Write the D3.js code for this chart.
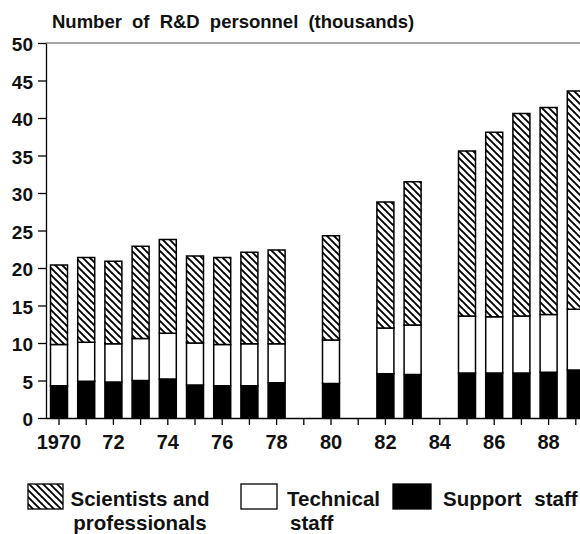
<!DOCTYPE html>
<html>
<head>
<meta charset="utf-8">
<script src="https://cdn.jsdelivr.net/npm/d3@7"></script>
<style>
  body { margin: 0; background: #fff; }
  text { font-family: Arial, "Liberation Sans", Helvetica, sans-serif; font-weight: bold; fill: #111; }
</style>
</head>
<body>
<div id="chart"></div>
<script>
// years with data (1979, 1981, 1984 missing)
const years = [1970, 1971, 1972, 1973, 1974, 1975, 1976, 1977, 1978, 1980, 1982, 1983, 1985, 1986, 1987, 1988, 1989];
const support = [4.3, 4.9, 4.8, 5.0, 5.2, 4.4, 4.3, 4.3, 4.7, 4.6, 5.9, 5.8, 6.0, 6.0, 6.0, 6.1, 6.4];
const technical = [5.5, 5.2, 5.1, 5.6, 6.1, 5.6, 5.5, 5.6, 5.2, 5.8, 6.1, 6.6, 7.6, 7.5, 7.6, 7.7, 8.1];
const scientists = [10.6, 11.3, 11.0, 12.3, 12.5, 11.6, 11.6, 12.2, 12.5, 13.9, 16.8, 19.1, 22.0, 24.6, 27.0, 27.6, 29.1];
const allYears = d3.range(1970, 1990);
const yTicks = [0, 5, 10, 15, 20, 25, 30, 35, 40, 45, 50];
const xLabels = { 1970: '1970', 1972: '72', 1974: '74', 1976: '76', 1978: '78', 1980: '80', 1982: '82', 1984: '84', 1986: '86', 1988: '88' };

const width = 580, height = 534;
const plotLeft = 46, plotTop = 43, plotBottom = 418;

const svg = d3.select('#chart').append('svg')
  .attr('width', width)
  .attr('height', height);

// hatch pattern "\\\"
const defs = svg.append('defs');
const pat = defs.append('pattern')
  .attr('id', 'hatch')
  .attr('patternUnits', 'userSpaceOnUse')
  .attr('width', 7).attr('height', 7);
pat.append('rect').attr('width', 7).attr('height', 7).attr('fill', '#fff');
pat.append('path')
  .attr('d', 'M-1,-1 L8,8 M-4.5,2.5 L0.5,7.5 M2.5,-4.5 L7.5,0.5')
  .attr('stroke', '#000').attr('stroke-width', 1.9);

const data = years.map((y, i) => ({ year: y, support: support[i], technical: technical[i], scientists: scientists[i] }));
const keys = ['support', 'technical', 'scientists'];
const fills = { support: '#000', technical: '#fff', scientists: 'url(#hatch)' };

const stack = d3.stack().keys(keys)(data);

const x = d3.scaleBand()
  .domain(allYears)
  .range([45.4, 45.4 + 20 * 27.2])
  .paddingInner(0.375)
  .paddingOuter(0.1875);

const y = d3.scaleLinear()
  .domain([0, 50])
  .range([plotBottom, plotTop]);

// top frame line
svg.append('line')
  .attr('x1', plotLeft).attr('x2', width)
  .attr('y1', plotTop).attr('y2', plotTop)
  .attr('stroke', '#888').attr('stroke-width', 1.5);

// bars
svg.append('g').attr('class', 'bars')
  .selectAll('g')
  .data(stack)
  .enter().append('g')
  .attr('fill', d => fills[d.key])
  .selectAll('rect')
  .data(d => d)
  .enter().append('rect')
  .attr('x', d => x(d.data.year))
  .attr('width', x.bandwidth())
  .attr('y', d => y(d[1]))
  .attr('height', d => y(d[0]) - y(d[1]))
  .attr('stroke', '#000')
  .attr('stroke-width', 1.5);

// y axis
const yAxis = d3.axisLeft(y)
  .tickValues(yTicks)
  .tickSize(8)
  .tickSizeOuter(0)
  .tickPadding(5);

svg.append('g')
  .attr('class', 'yaxis')
  .attr('transform', `translate(${plotLeft},0)`)
  .call(yAxis)
  .call(g => g.selectAll('text').style('font-size', '19px').attr('dy', '0.4em'))
  .call(g => g.selectAll('line, path').attr('stroke', '#000').attr('stroke-width', 1.3));

// x axis
const xAxis = d3.axisBottom(x)
  .tickFormat(d => xLabels[d] || '')
  .tickSize(7)
  .tickSizeOuter(0)
  .tickPadding(10);

svg.append('g')
  .attr('class', 'xaxis')
  .attr('transform', `translate(0,${plotBottom})`)
  .call(xAxis)
  .call(g => g.select('.domain').attr('d', `M${plotLeft},0.5H${width}`))
  .call(g => g.selectAll('text').style('font-size', '20px'))
  .call(g => g.selectAll('line, path').attr('stroke', '#000').attr('stroke-width', 1.3));

// title
svg.append('text')
  .attr('x', 52).attr('y', 28)
  .style('font-size', '18.5px')
  .style('word-spacing', '5px')
  .text('Number of R&D personnel (thousands)');

// legend
const legend = svg.append('g').attr('class', 'legend');
const boxes = [
  { key: 'scientists', x: 28, w: 35 },
  { key: 'technical', x: 241, w: 36 },
  { key: 'support', x: 393, w: 38 }
];
legend.selectAll('rect')
  .data(boxes)
  .enter().append('rect')
  .attr('x', d => d.x).attr('y', 484)
  .attr('width', d => d.w).attr('height', 25)
  .attr('fill', d => fills[d.key])
  .attr('stroke', '#000').attr('stroke-width', 1.3);

const lt = legend.append('g').style('font-size', '20.5px');
lt.append('text').attr('x', 140).attr('y', 506).attr('text-anchor', 'middle').text('Scientists and');
lt.append('text').attr('x', 140).attr('y', 530).attr('text-anchor', 'middle').text('professionals');
lt.append('text').attr('x', 287).attr('y', 506).text('Technical');
lt.append('text').attr('x', 290).attr('y', 530).text('staff');
lt.append('text').attr('x', 443).attr('y', 506).style('word-spacing', '7px').text('Support staff');
</script>
</body>
</html>
